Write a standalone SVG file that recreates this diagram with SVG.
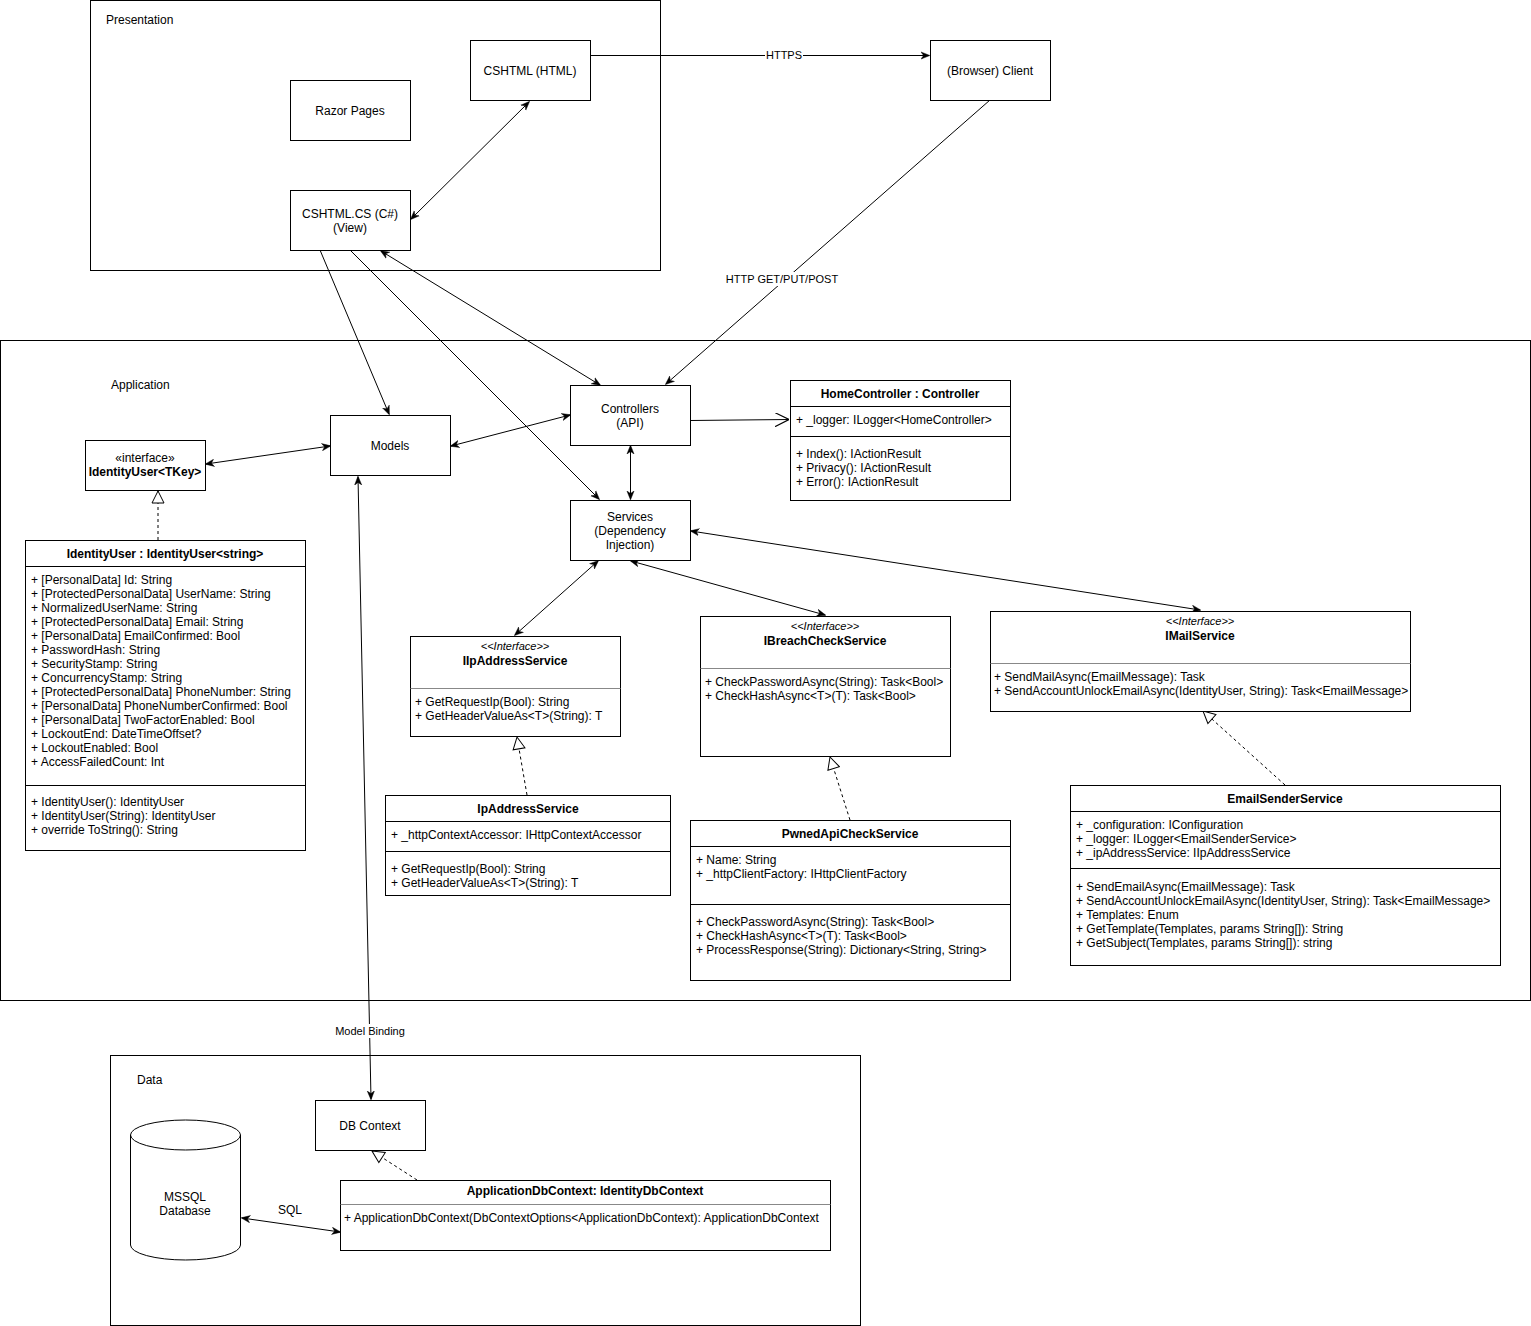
<svg xmlns="http://www.w3.org/2000/svg" width="1531" height="1326" viewBox="0 0 1531 1326">
<style>
  .box { fill: #fff; stroke: #000; stroke-width: 1; }
  .cont { fill: none; stroke: #000; stroke-width: 1; }
  .t { font-family: "Liberation Sans", Arial, sans-serif; font-size: 12px; fill: #000; }
  .c { text-anchor: middle; }
  .b { font-weight: bold; }
  .st { font-family: "Liberation Sans", Arial, sans-serif; font-size: 11px; font-style: italic; fill: #000; text-anchor: middle; }
  .div { stroke: #000; stroke-width: 1; }
  .gdiv { stroke: #888; stroke-width: 1; }
  .edge { fill: none; stroke: #000; stroke-width: 1; }
  .dash { fill: none; stroke: #000; stroke-width: 1; stroke-dasharray: 3 3; }
  .lbl { font-family: "Liberation Sans", Arial, sans-serif; font-size: 11px; fill: #000; text-anchor: middle; }
</style>
<defs>
  <marker id="arr" viewBox="0 0 10 10" refX="9" refY="5" markerWidth="9" markerHeight="9" markerUnits="userSpaceOnUse" orient="auto-start-reverse">
    <path d="M0,1 L10,5 L0,9 L3,5 z" fill="#000" stroke="#000" stroke-width="0.5"/>
  </marker>
  <marker id="open" viewBox="0 0 12 12" refX="12" refY="6" markerWidth="14" markerHeight="14" markerUnits="userSpaceOnUse" orient="auto">
    <path d="M0,0 L12,6 L0,12" fill="none" stroke="#000" stroke-width="1"/>
  </marker>
  <marker id="tri" viewBox="0 0 14 14" refX="13" refY="7" markerWidth="14" markerHeight="14" markerUnits="userSpaceOnUse" orient="auto">
    <path d="M1,1 L13,7 L1,13 z" fill="#fff" stroke="#000" stroke-width="1"/>
  </marker>
</defs>
<rect width="1531" height="1326" fill="#fff"/>

<!-- Containers -->
<g id="presentation">
  <rect class="cont" x="90.5" y="0.5" width="570" height="270"/>
  <text class="t" x="106" y="24">Presentation</text>
</g>
<g id="application">
  <rect class="cont" x="0.5" y="340.5" width="1530" height="660"/>
  <text class="t" x="111" y="389">Application</text>
</g>
<g id="data">
  <rect class="cont" x="110.5" y="1055.5" width="750" height="270"/>
  <text class="t" x="137" y="1084">Data</text>
</g>

<!-- Connectors -->
<g id="connectors">
  <line class="edge" x1="590" y1="55.5" x2="929" y2="55.5" marker-end="url(#arr)"/>
  <rect x="765" y="48" width="38" height="14" fill="#fff"/>
  <text class="lbl" x="784" y="59">HTTPS</text>

  <line class="edge" x1="529" y1="102" x2="411" y2="219" marker-start="url(#arr)" marker-end="url(#arr)"/>

  <line class="edge" x1="990" y1="100" x2="666" y2="384" marker-end="url(#arr)"/>
  <rect x="725" y="272" width="114" height="14" fill="#fff"/>
  <text class="lbl" x="782" y="283">HTTP GET/PUT/POST</text>

  <line class="edge" x1="320" y1="250" x2="389" y2="414" marker-end="url(#arr)"/>
  <line class="edge" x1="350" y1="250" x2="599" y2="499" marker-end="url(#arr)"/>
  <line class="edge" x1="381" y1="251" x2="600" y2="385" marker-start="url(#arr)" marker-end="url(#arr)"/>

  <line class="edge" x1="690" y1="420.5" x2="789" y2="419.5" marker-end="url(#open)"/>
  <line class="edge" x1="451" y1="446" x2="570" y2="415" marker-start="url(#arr)" marker-end="url(#arr)"/>
  <line class="edge" x1="206" y1="464" x2="330" y2="446" marker-start="url(#arr)" marker-end="url(#arr)"/>
  <line class="edge" x1="630.5" y1="446" x2="630.5" y2="499" marker-start="url(#arr)" marker-end="url(#arr)"/>

  <line class="edge" x1="358" y1="477" x2="371" y2="1099" marker-start="url(#arr)" marker-end="url(#arr)"/>
  <rect x="334" y="1024" width="72" height="14" fill="#fff"/>
  <text class="lbl" x="370" y="1035">Model Binding</text>

  <line class="edge" x1="598" y1="561" x2="515" y2="635" marker-start="url(#arr)" marker-end="url(#arr)"/>
  <line class="edge" x1="631" y1="561" x2="825" y2="615" marker-start="url(#arr)" marker-end="url(#arr)"/>
  <line class="edge" x1="691" y1="531" x2="1200" y2="610" marker-start="url(#arr)" marker-end="url(#arr)"/>

  <line class="dash" x1="158" y1="540" x2="158" y2="491" marker-end="url(#tri)"/>
  <line class="dash" x1="527" y1="795" x2="517" y2="737" marker-end="url(#tri)"/>
  <line class="dash" x1="850" y1="820" x2="830" y2="757" marker-end="url(#tri)"/>
  <line class="dash" x1="1285" y1="785" x2="1203" y2="711" marker-end="url(#tri)"/>
  <line class="dash" x1="417" y1="1180" x2="372" y2="1151" marker-end="url(#tri)"/>

  <line class="edge" x1="242" y1="1218" x2="340" y2="1232" marker-start="url(#arr)" marker-end="url(#arr)"/>
  <text class="t" x="290" y="1214" text-anchor="middle">SQL</text>
</g>

<!-- Nodes -->
<g id="cshtml-html">
  <rect class="box" x="470.5" y="40.5" width="120" height="60"/>
  <text class="t c" x="530" y="75">CSHTML (HTML)</text>
</g>
<g id="razor-pages">
  <rect class="box" x="290.5" y="80.5" width="120" height="60"/>
  <text class="t c" x="350" y="115">Razor Pages</text>
</g>
<g id="cshtml-cs">
  <rect class="box" x="290.5" y="190.5" width="120" height="60"/>
  <text class="t c" x="350" y="218">CSHTML.CS (C#)</text>
  <text class="t c" x="350" y="232">(View)</text>
</g>
<g id="browser-client">
  <rect class="box" x="930.5" y="40.5" width="120" height="60"/>
  <text class="t c" x="990" y="75">(Browser) Client</text>
</g>
<g id="controllers">
  <rect class="box" x="570.5" y="385.5" width="120" height="60"/>
  <text class="t c" x="630" y="413">Controllers</text>
  <text class="t c" x="630" y="427">(API)</text>
</g>
<g id="models">
  <rect class="box" x="330.5" y="415.5" width="120" height="60"/>
  <text class="t c" x="390" y="450">Models</text>
</g>
<g id="services">
  <rect class="box" x="570.5" y="500.5" width="120" height="60"/>
  <text class="t c" x="630" y="521">Services</text>
  <text class="t c" x="630" y="535">(Dependency</text>
  <text class="t c" x="630" y="549">Injection)</text>
</g>
<g id="home-controller">
  <rect class="box" x="790.5" y="380.5" width="220" height="120"/>
  <line class="div" x1="790.5" y1="406.5" x2="1010.5" y2="406.5"/>
  <line class="div" x1="790.5" y1="436.5" x2="1010.5" y2="436.5"/>
  <text class="t c b" x="900" y="398">HomeController : Controller</text>
  <text class="t" x="796" y="424">+ _logger: ILogger&lt;HomeController&gt;</text>
  <text class="t" x="796" y="458">+ Index(): IActionResult</text>
  <text class="t" x="796" y="472">+ Privacy(): IActionResult</text>
  <text class="t" x="796" y="486">+ Error(): IActionResult</text>
</g>
<g id="identityuser-tkey">
  <rect class="box" x="85.5" y="440.5" width="120" height="50"/>
  <text class="t c" x="145" y="462">«interface»</text>
  <text class="t c b" x="145" y="476">IdentityUser&lt;TKey&gt;</text>
</g>
<g id="identityuser">
  <rect class="box" x="25.5" y="540.5" width="280" height="310"/>
  <line class="div" x1="25.5" y1="566.5" x2="305.5" y2="566.5"/>
  <line class="div" x1="25.5" y1="785.5" x2="305.5" y2="785.5"/>
  <text class="t c b" x="165" y="558">IdentityUser : IdentityUser&lt;string&gt;</text>
  <text class="t" x="31" y="584">+ [PersonalData] Id: String</text>
  <text class="t" x="31" y="598">+ [ProtectedPersonalData] UserName: String</text>
  <text class="t" x="31" y="612">+ NormalizedUserName: String</text>
  <text class="t" x="31" y="626">+ [ProtectedPersonalData] Email: String</text>
  <text class="t" x="31" y="640">+ [PersonalData] EmailConfirmed: Bool</text>
  <text class="t" x="31" y="654">+ PasswordHash: String</text>
  <text class="t" x="31" y="668">+ SecurityStamp: String</text>
  <text class="t" x="31" y="682">+ ConcurrencyStamp: String</text>
  <text class="t" x="31" y="696">+ [ProtectedPersonalData] PhoneNumber: String</text>
  <text class="t" x="31" y="710">+ [PersonalData] PhoneNumberConfirmed: Bool</text>
  <text class="t" x="31" y="724">+ [PersonalData] TwoFactorEnabled: Bool</text>
  <text class="t" x="31" y="738">+ LockoutEnd: DateTimeOffset?</text>
  <text class="t" x="31" y="752">+ LockoutEnabled: Bool</text>
  <text class="t" x="31" y="766">+ AccessFailedCount: Int</text>
  <text class="t" x="31" y="806">+ IdentityUser(): IdentityUser</text>
  <text class="t" x="31" y="820">+ IdentityUser(String): IdentityUser</text>
  <text class="t" x="31" y="834">+ override ToString(): String</text>
</g>
<g id="iipaddressservice">
  <rect class="box" x="410.5" y="636.5" width="210" height="100"/>
  <line class="gdiv" x1="410.5" y1="688.5" x2="620.5" y2="688.5"/>
  <text class="st" x="515" y="650">&lt;&lt;Interface&gt;&gt;</text>
  <text class="t c b" x="515" y="665">IIpAddressService</text>
  <text class="t" x="415" y="706">+ GetRequestIp(Bool): String</text>
  <text class="t" x="415" y="720">+ GetHeaderValueAs&lt;T&gt;(String): T</text>
</g>
<g id="ipaddressservice">
  <rect class="box" x="385.5" y="795.5" width="285" height="100"/>
  <line class="div" x1="385.5" y1="821.5" x2="670.5" y2="821.5"/>
  <line class="div" x1="385.5" y1="851.5" x2="670.5" y2="851.5"/>
  <text class="t c b" x="528" y="813">IpAddressService</text>
  <text class="t" x="391" y="839">+ _httpContextAccessor: IHttpContextAccessor</text>
  <text class="t" x="391" y="873">+ GetRequestIp(Bool): String</text>
  <text class="t" x="391" y="887">+ GetHeaderValueAs&lt;T&gt;(String): T</text>
</g>
<g id="ibreachcheckservice">
  <rect class="box" x="700.5" y="616.5" width="250" height="140"/>
  <line class="gdiv" x1="700.5" y1="668.5" x2="950.5" y2="668.5"/>
  <text class="st" x="825" y="630">&lt;&lt;Interface&gt;&gt;</text>
  <text class="t c b" x="825" y="645">IBreachCheckService</text>
  <text class="t" x="705" y="686">+ CheckPasswordAsync(String): Task&lt;Bool&gt;</text>
  <text class="t" x="705" y="700">+ CheckHashAsync&lt;T&gt;(T): Task&lt;Bool&gt;</text>
</g>
<g id="pwnedapicheckservice">
  <rect class="box" x="690.5" y="820.5" width="320" height="160"/>
  <line class="div" x1="690.5" y1="846.5" x2="1010.5" y2="846.5"/>
  <line class="div" x1="690.5" y1="904.5" x2="1010.5" y2="904.5"/>
  <text class="t c b" x="850" y="838">PwnedApiCheckService</text>
  <text class="t" x="696" y="864">+ Name: String</text>
  <text class="t" x="696" y="878">+ _httpClientFactory: IHttpClientFactory</text>
  <text class="t" x="696" y="926">+ CheckPasswordAsync(String): Task&lt;Bool&gt;</text>
  <text class="t" x="696" y="940">+ CheckHashAsync&lt;T&gt;(T): Task&lt;Bool&gt;</text>
  <text class="t" x="696" y="954">+ ProcessResponse(String): Dictionary&lt;String, String&gt;</text>
</g>
<g id="imailservice">
  <rect class="box" x="990.5" y="611.5" width="420" height="100"/>
  <line class="gdiv" x1="990.5" y1="663.5" x2="1410.5" y2="663.5"/>
  <text class="st" x="1200" y="625">&lt;&lt;Interface&gt;&gt;</text>
  <text class="t c b" x="1200" y="640">IMailService</text>
  <text class="t" x="994" y="681">+ SendMailAsync(EmailMessage): Task</text>
  <text class="t" x="994" y="695">+ SendAccountUnlockEmailAsync(IdentityUser, String): Task&lt;EmailMessage&gt;</text>
</g>
<g id="emailsenderservice">
  <rect class="box" x="1070.5" y="785.5" width="430" height="180"/>
  <line class="div" x1="1070.5" y1="811.5" x2="1500.5" y2="811.5"/>
  <line class="div" x1="1070.5" y1="868.5" x2="1500.5" y2="868.5"/>
  <text class="t c b" x="1285" y="803">EmailSenderService</text>
  <text class="t" x="1076" y="829">+ _configuration: IConfiguration</text>
  <text class="t" x="1076" y="843">+ _logger: ILogger&lt;EmailSenderService&gt;</text>
  <text class="t" x="1076" y="857">+ _ipAddressService: IIpAddressService</text>
  <text class="t" x="1076" y="891">+ SendEmailAsync(EmailMessage): Task</text>
  <text class="t" x="1076" y="905">+ SendAccountUnlockEmailAsync(IdentityUser, String): Task&lt;EmailMessage&gt;</text>
  <text class="t" x="1076" y="919">+ Templates: Enum</text>
  <text class="t" x="1076" y="933">+ GetTemplate(Templates, params String[]): String</text>
  <text class="t" x="1076" y="947">+ GetSubject(Templates, params String[]): string</text>
</g>
<g id="db-context">
  <rect class="box" x="315.5" y="1100.5" width="110" height="50"/>
  <text class="t c" x="370" y="1130">DB Context</text>
</g>
<g id="mssql-database">
  <path class="box" d="M130.5,1135 A55,15 0 0 1 240.5,1135 L240.5,1245 A55,15 0 0 1 130.5,1245 Z"/>
  <path class="edge" d="M130.5,1135 A55,15 0 0 0 240.5,1135"/>
  <text class="t c" x="185" y="1201">MSSQL</text>
  <text class="t c" x="185" y="1215">Database</text>
</g>
<g id="applicationdbcontext">
  <rect class="box" x="340.5" y="1180.5" width="490" height="70"/>
  <line class="gdiv" x1="340.5" y1="1204.5" x2="830.5" y2="1204.5"/>
  <text class="t c b" x="585" y="1195">ApplicationDbContext: IdentityDbContext</text>
  <text class="t" x="344" y="1222">+ ApplicationDbContext(DbContextOptions&lt;ApplicationDbContext): ApplicationDbContext</text>
</g>
</svg>
